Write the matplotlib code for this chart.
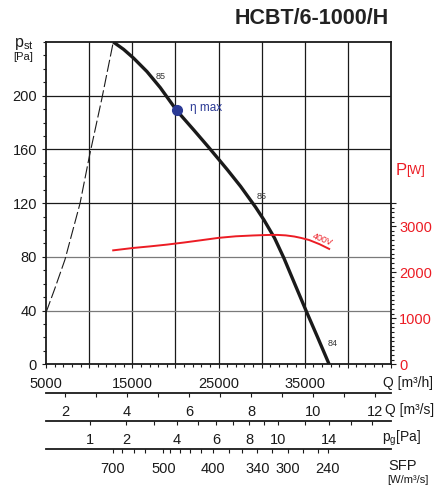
import matplotlib
matplotlib.use('Agg')
import matplotlib.pyplot as plt

plt.rcParams['font.family'] = ['Liberation Sans', 'DejaVu Sans']
plt.rcParams['mathtext.fontset'] = 'custom'
plt.rcParams['mathtext.rm'] = 'Liberation Sans'

RED = '#ec1c24'
BLUE = '#2b3a95'
INK = '#1a1a1a'

# fan curve  Q [m3/h] -> p_st [Pa]
q_fan = [12800, 14000, 15150, 16700, 18250, 20150, 22130, 23870, 25040, 26010,
         27560, 29300, 30270, 31500, 32590, 33800, 35120, 36500, 37830]
p_fan = [240, 234.5, 228, 218, 206, 189, 174.5, 161.5, 152.5, 145,
         132.5, 117, 107.5, 94, 79, 60.5, 40.4, 20, 0]

# system curve (dashed)
q_sys = [5000, 6000, 7200, 8950, 10030, 11480, 12800]
p_sys = [38.5, 56, 78, 120, 155, 198, 240]

# power input 400V  Q [m3/h] -> P [W]
q_pow = [12790, 15120, 17000, 19040, 21000, 23000, 25000, 27000, 29000, 30080,
         31000, 31830, 32800, 33800, 34540, 35500, 36700, 37830]
p_pow = [2475, 2527, 2560, 2600, 2645, 2695, 2746, 2780, 2798, 2805,
         2810, 2810, 2800, 2775, 2746, 2700, 2610, 2506]

# max efficiency point
q_eta, p_eta = 20150, 189

# efficiency labels along the curve
eta_txt = ['85', '85', '84']
eta_q = [18260, 30000, 38220]
eta_p = [214.6, 124.8, 15.6]

# main axes ticks
q_h_ticks = [5000, 10000, 15000, 20000, 25000, 30000, 35000, 40000, 45000]
q_h_labels = ['5000', '', '15000', '', '25000', '', '35000', '', '']
p_ticks = [0, 40, 80, 120, 160, 200]
p_grid = [40, 80, 120, 160, 200]
p_grid_col = ['#7a7a7a', '#7a7a7a', INK, INK, INK]
w_ticks = [0, 1000, 2000, 3000, 3500]
w_labels = ['0', '1000', '2000', '3000', '']

# lower scales
qs_ticks = [2, 3, 4, 5, 6, 7, 8, 9, 10, 11, 12]          # m3/s
pg_ticks = [1, 2, 3, 4, 5, 6, 7, 8, 9, 10, 12, 14, 16, 18]  # Pa
pg_shown = [1, 2, 4, 6, 8, 10, 14]
q_at_1pa = 10100   # m3/h where dynamic pressure = 1 Pa
sfp_vals = [700, 650, 600, 550, 500, 480, 460, 440, 420, 400,
            380, 360, 340, 320, 300, 280, 260, 240]
sfp_q = [12750, 13800, 15150, 16500, 18600, 19400, 20500, 21650, 23000, 24400,
         26200, 27750, 29500, 31250, 33050, 34850, 36500, 37650]
sfp_shown = [700, 500, 400, 340, 300, 240]

fig = plt.figure(figsize=(4.42, 4.86), dpi=100)
L, W = 0.1041, 0.7805
ax = fig.add_axes([L, 0.2504, W, 0.6632])
ax.set_xlim(5000, 45000)
ax.set_ylim(0, 240)

for v in q_h_ticks[1:-1]:
    ax.axvline(v, color=INK, lw=0.9, zorder=1)
for v, c in zip(p_grid, p_grid_col):
    ax.axhline(v, color=c, lw=0.9, zorder=1)

ax.set_xticks(q_h_ticks)
ax.set_xticklabels(q_h_labels)
ax.set_xticks(range(5000, 45001, 1000), minor=True)
ax.set_yticks(p_ticks)
ax.set_yticks(range(0, 241, 10), minor=True)
ax.tick_params(which='both', direction='out', colors=INK, labelsize=10.5, width=0.8)
ax.tick_params(which='major', length=3)
ax.tick_params(which='minor', length=2.2)
ax.tick_params(axis='x', pad=6)
ax.tick_params(axis='y', pad=3.5)
for s in ax.spines.values():
    s.set_linewidth(1.3)
    s.set_color(INK)

ax.plot(q_sys, p_sys, color=INK, lw=0.8, dashes=(11, 3), zorder=3)
ax.plot(q_fan, p_fan, color=INK, lw=2.4, zorder=4, solid_capstyle='butt',
        solid_joinstyle='round')
ax.plot(q_eta, p_eta, 'o', color=BLUE, ms=7, zorder=5)
ax.text(21700, 191, 'η max', color=BLUE, fontsize=8.5, va='center', ha='left')
for t, qx, py in zip(eta_txt, eta_q, eta_p):
    ax.text(qx, py, t, fontsize=6.5, color='#333333', ha='center', va='center')

ax2 = ax.twinx()
ax2.set_ylim(0, 7000)
ax2.set_yticks(w_ticks)
ax2.set_yticklabels(w_labels)
ax2.set_yticks(range(0, 3501, 100), minor=True)
ax2.tick_params(which='both', direction='out', colors=INK, width=0.8)
ax2.tick_params(which='major', length=3.5, labelsize=10.5, labelcolor=RED, pad=2.5)
ax2.tick_params(which='minor', length=2)
for s in ax2.spines.values():
    s.set_visible(False)
ax2.plot(q_pow, p_pow, color=RED, lw=1.4, zorder=4, solid_joinstyle='round')
ax2.text(37000, 2700, '400V', color=RED, fontsize=6.5, rotation=-22,
         ha='center', va='center')

# titles and axis names
fig.text(389 / 442, 1 - 19 / 486, 'HCBT/6-1000/H', fontsize=15.5, fontweight='bold',
         ha='right', va='center', color='#222222')
fig.text(14 / 442, 1 - 44 / 486, r'$\mathregular{p_{st}}$', fontsize=11.5,
         ha='left', va='center', color=INK)
fig.text(13 / 442, 1 - 57 / 486, '[Pa]', fontsize=8, ha='left', va='center', color=INK)
fig.text(396 / 442, 1 - 170 / 486, 'P', fontsize=12, ha='left', va='center', color=RED)
fig.text(406 / 442, 1 - 171 / 486, '[W]', fontsize=9, ha='left', va='center', color=RED)


def scale_line(y_px, pos, labels):
    a = fig.add_axes([L, 1 - y_px / 486, W, 0.0001])
    a.set_xlim(5000, 45000)
    for k in ['left', 'right', 'top']:
        a.spines[k].set_visible(False)
    a.spines['bottom'].set_linewidth(1.3)
    a.spines['bottom'].set_color(INK)
    a.set_yticks([])
    a.set_xticks(pos)
    a.set_xticklabels(labels)
    a.tick_params(axis='x', direction='out', length=3, width=0.8, colors=INK,
                  labelsize=10.5, pad=6)
    a.patch.set_visible(False)
    return a


# Q [m3/s]
scale_line(392.7, [v * 3600 for v in qs_ticks],
           [str(v) if v % 2 == 0 else '' for v in qs_ticks])
# dynamic pressure
scale_line(420.7, [q_at_1pa * v ** 0.5 for v in pg_ticks],
           [str(v) if v in pg_shown else '' for v in pg_ticks])
# SFP
scale_line(449, sfp_q, [str(v) if v in sfp_shown else '' for v in sfp_vals])

fig.text(383 / 442, 1 - 383 / 486, 'Q [m³/h]', fontsize=10, ha='left', va='center', color=INK)
fig.text(385 / 442, 1 - 410 / 486, 'Q [m³/s]', fontsize=10, ha='left', va='center', color=INK)
fig.text(382 / 442, 1 - 438 / 486, r'$\mathregular{p_g}$[Pa]', fontsize=10, ha='left',
         va='center', color=INK)
fig.text(388 / 442, 1 - 466 / 486, 'SFP', fontsize=10.5, ha='left', va='center', color=INK)
fig.text(387 / 442, 1 - 480 / 486, '[W/m³/s]', fontsize=8, ha='left', va='center', color=INK)

fig.savefig('out.png', dpi=100)
